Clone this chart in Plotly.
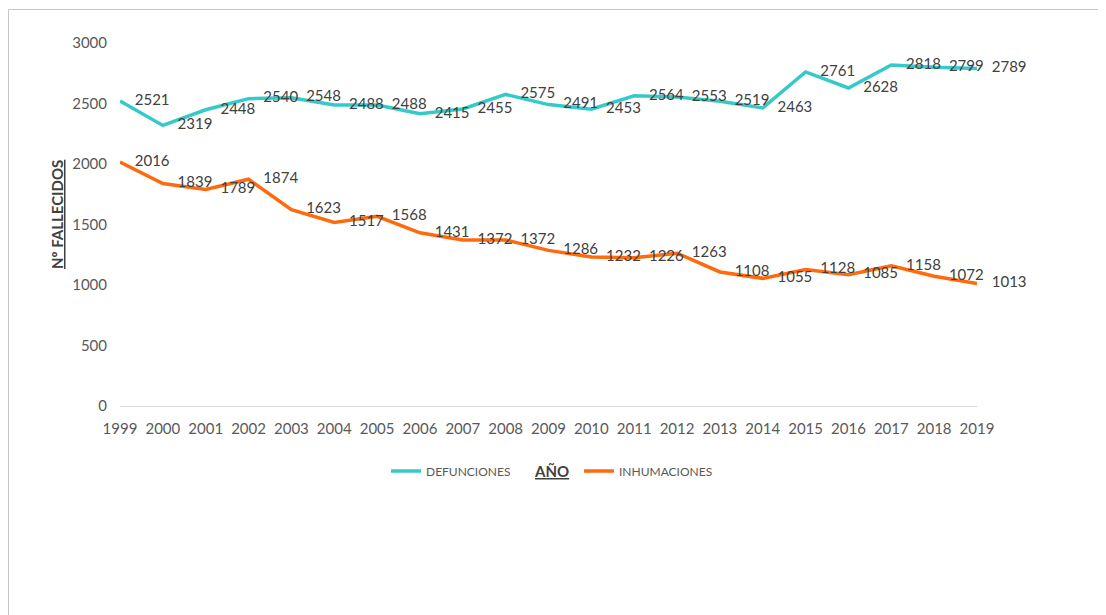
import plotly.graph_objects as go

years = list(range(1999, 2020))
defunciones = [2521, 2319, 2448, 2540, 2548, 2488, 2488, 2415, 2455, 2575, 2491,
               2453, 2564, 2553, 2519, 2463, 2761, 2628, 2818, 2799, 2789]
inhumaciones = [2016, 1839, 1789, 1874, 1623, 1517, 1568, 1431, 1372, 1372, 1286,
                1232, 1226, 1263, 1108, 1055, 1128, 1085, 1158, 1072, 1013]
y_ticks = [0, 500, 1000, 1500, 2000, 2500, 3000]

OFF = 8  # page body margin
W, H = 1106 - OFF, 615 - OFF
L, R, T, B = 120 - OFF, 977 - OFF, 43 - OFF, 406 - OFF


def px(x):
    return (x - OFF - L) / (R - L)


def py(y):
    return (B - (y - OFF)) / (B - T)


FONT = "Lato"
TXT = "#404040"

fig = go.Figure()
fig.add_trace(go.Scatter(
    x=years, y=defunciones, name="DEFUNCIONES", mode="lines+markers+text",
    line=dict(color="#36C9C9", width=3.5),
    marker=dict(size=22, color="rgba(0,0,0,0)"),
    text=[str(v) for v in defunciones], textposition="middle right",
    textfont=dict(family=FONT, size=15, color=TXT),
    cliponaxis=False, legend="legend",
))
fig.add_trace(go.Scatter(
    x=years, y=inhumaciones, name="INHUMACIONES", mode="lines+markers+text",
    line=dict(color="#FF6A0D", width=3.5),
    marker=dict(size=22, color="rgba(0,0,0,0)"),
    text=[str(v) for v in inhumaciones], textposition="middle right",
    textfont=dict(family=FONT, size=15, color=TXT),
    cliponaxis=False, legend="legend2",
))

fig.update_layout(
    width=W, height=H,
    margin=dict(l=L, r=W - R, t=T, b=H - B, pad=0),
    paper_bgcolor="white", plot_bgcolor="white",
    font=dict(family=FONT, color="#595959"),
    showlegend=True,
    legend=dict(x=px(386), y=py(471), xanchor="left", yanchor="middle",
                font=dict(family=FONT, size=12, color="#595959"),
                bgcolor="rgba(0,0,0,0)", borderwidth=0),
    legend2=dict(x=px(579), y=py(471), xanchor="left", yanchor="middle",
                 font=dict(family=FONT, size=12, color="#595959"),
                 bgcolor="rgba(0,0,0,0)", borderwidth=0),
    xaxis=dict(range=[1999, 2019], tickmode="array", tickvals=years,
               ticktext=[str(y) for y in years], showgrid=False, zeroline=False,
               showline=False, ticks="", tickfont=dict(family=FONT, size=15, color="#595959"),
               ticklabelstandoff=12),
    yaxis=dict(range=[0, 3000], tickmode="array", tickvals=y_ticks,
               ticktext=[str(v) for v in y_ticks], showgrid=False, zeroline=True,
               zerolinecolor="#D9D9D9", zerolinewidth=1, showline=False, ticks="",
               tickfont=dict(family=FONT, size=15, color="#595959"),
               ticklabelstandoff=12),
    annotations=[
        dict(text="AÑO", x=px(551), y=py(471), xref="paper", yref="paper",
             showarrow=False, xanchor="center", yanchor="middle",
             font=dict(family=FONT, size=15, color="#404040", weight="bold",
                       lineposition="under")),
        dict(text="Nº FALLECIDOS", x=px(57), y=py(215), xref="paper", yref="paper",
             showarrow=False, xanchor="center", yanchor="middle", textangle=-90,
             font=dict(family=FONT, size=15, color="#404040", weight="bold",
                       lineposition="under")),
    ],
    shapes=[
        dict(type="rect", xref="paper", yref="paper",
             x0=px(8.5), x1=px(1120), y0=py(9.5), y1=py(630),
             line=dict(color="#C6C6C6", width=1), fillcolor="rgba(0,0,0,0)",
             layer="below"),
    ],
)

fig.write_html("out.html")
